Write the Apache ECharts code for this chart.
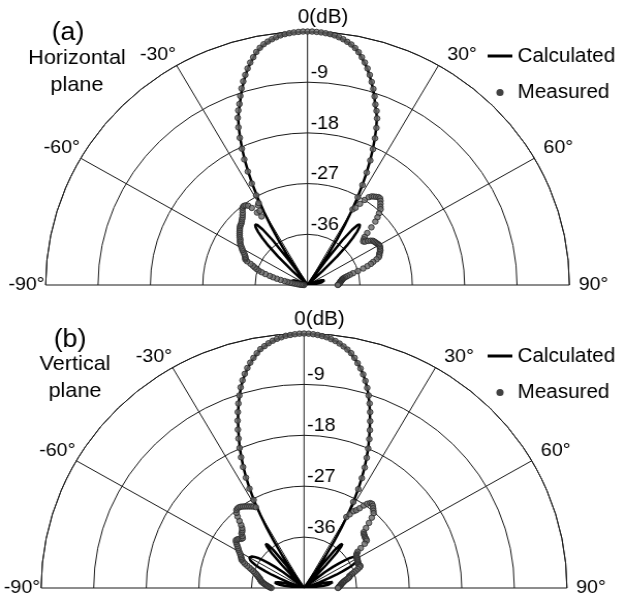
<!DOCTYPE html>
<html>
<head>
<meta charset="utf-8">
<script src="https://cdn.jsdelivr.net/npm/echarts@6/dist/echarts.min.js"></script>
<style>
html,body{margin:0;padding:0;background:#fff;overflow:hidden;}
#wrap{width:624px;height:598px;overflow:hidden;}
#chart{width:604px;height:598px;transform:scaleX(1.033);transform-origin:0 0;}
</style>
</head>
<body>
<div id="wrap"><div id="chart"></div></div>
<script>
// Sample angles (degrees), shared by every pattern series
const ANGLES = [
  -90,-89,-88,-87,-86,-85,-84,-83,-82,-81,
  -80,-79,-78,-77,-76,-75,-74,-73,-72,-71,
  -70,-69,-68,-67,-66,-65,-64,-63,-62,-61,
  -60,-59,-58,-57,-56,-55,-54,-53,-52,-51,
  -50,-49,-48,-47,-46,-45,-44,-43,-42,-41,
  -40,-39,-38,-37,-36,-35,-34,-33,-32,-31,
  -30,-29,-28,-27,-26,-25,-24,-23,-22,-21,
  -20,-19,-18,-17,-16,-15,-14,-13,-12,-11,
  -10,-9,-8,-7,-6,-5,-4,-3,-2,-1,
  0,1,2,3,4,5,6,7,8,9,
  10,11,12,13,14,15,16,17,18,19,
  20,21,22,23,24,25,26,27,28,29,
  30,31,32,33,34,35,36,37,38,39,
  40,41,42,43,44,45,46,47,48,49,
  50,51,52,53,54,55,56,57,58,59,
  60,61,62,63,64,65,66,67,68,69,
  70,71,72,73,74,75,76,77,78,79,
  80,81,82,83,84,85,86,87,88,89,
  90
];

// (a) Horizontal plane, relative level in dB
const H_CALC = [
  -45,-45,-45,-45,-45,-44.7,-44.3,-43.9,-43.5,-43.1,
  -42.8,-42.5,-42.3,-42.1,-42.0,-41.9,-42.0,-42.1,-42.2,-42.4,
  -42.6,-42.9,-43.3,-44,-45,-45,-45,-45,-45,-45,
  -45,-45,-45,-45,-45,-45,-45,-45,-45,-45,
  -45,-45,-45,-45,-41.5,-37.8,-35.3,-33.6,-32.3,-31.4,
  -31.0,-31.3,-32.5,-35,-40,-45,-42.0,-38.5,-35.5,-32.7,
  -30.0,-27.4,-25.0,-22.7,-20.5,-18.5,-16.6,-14.8,-13.2,-12.0,
  -11.0,-9.7,-8.5,-7.4,-6.3,-5.3,-4.4,-3.6,-2.8,-2.2,
  -1.7,-1.35,-1.0,-0.75,-0.5,-0.35,-0.2,-0.1,-0.05,-0.02,
  0,-0.02,-0.05,-0.1,-0.2,-0.35,-0.5,-0.75,-1.0,-1.35,
  -1.7,-2.2,-2.8,-3.6,-4.4,-5.3,-6.3,-7.4,-8.5,-9.7,
  -11.0,-12.0,-13.2,-14.8,-16.6,-18.5,-20.5,-22.7,-25.0,-27.4,
  -30.0,-32.7,-35.5,-38.5,-42.0,-45,-40,-35,-32.5,-31.3,
  -31.0,-31.4,-32.3,-33.6,-35.3,-37.8,-41.5,-45,-45,-45,
  -45,-45,-45,-45,-45,-45,-45,-45,-45,-45,
  -45,-45,-45,-45,-45,-45,-45,-44,-43.3,-42.9,
  -42.6,-42.4,-42.2,-42.1,-42.0,-41.9,-42.0,-42.1,-42.3,-42.5,
  -42.8,-43.1,-43.5,-43.9,-44.3,-44.7,-45,-45,-45,-45,
  -45
];
const H_MEAS = [
  -44.4,-44.2,-44.0,-43.8,-43.5,-43.2,-42.8,-42.4,-42.0,-41.5,
  -41.0,-40.3,-39.6,-38.9,-38.3,-37.5,-36.8,-36.2,-35.8,-35.4,
  -35.0,-34.5,-33.8,-33.4,-33.3,-33.2,-33.0,-32.8,-32.5,-32.2,
  -32.0,-31.7,-31.4,-31.2,-31.0,-30.9,-30.6,-30.4,-30.2,-30.0,
  -29.8,-29.6,-29.4,-29.3,-29.2,-29.0,-28.8,-28.6,-28.3,-28.0,
  -27.6,-27.3,-27.2,-27.3,-27.6,-28.3,-29.5,-30.5,-29.5,-28.5,
  -28.2,-26.8,-24.6,-22.4,-20.2,-18.3,-16.4,-14.6,-13.0,-11.8,
  -10.8,-9.5,-8.3,-7.2,-6.2,-5.2,-4.3,-3.5,-2.7,-2.1,
  -1.6,-1.25,-0.95,-0.7,-0.45,-0.3,-0.2,-0.1,-0.05,0,
  0,0,-0.05,-0.1,-0.2,-0.3,-0.45,-0.7,-0.95,-1.3,
  -1.65,-2.15,-2.75,-3.5,-4.3,-5.2,-6.2,-7.3,-8.4,-9.6,
  -10.9,-11.9,-13.1,-14.7,-16.5,-18.4,-20.4,-22.6,-24.9,-27.2,
  -29.5,-29.0,-28.0,-27.0,-26.2,-25.8,-25.6,-25.4,-25.2,-25.2,
  -25.5,-25.9,-26.3,-26.6,-27.3,-28.0,-28.8,-30.0,-31.2,-32.0,
  -32.4,-32.7,-32.5,-32.0,-31.6,-31.3,-31.2,-31.1,-31.0,-30.9,
  -30.8,-30.8,-30.9,-31.0,-31.1,-31.3,-31.5,-31.6,-31.8,-32.3,
  -33.0,-33.5,-34.2,-35.0,-36.0,-36.9,-37.5,-38.0,-38.4,-38.7,
  -38.9,-39.0,-39.1,-39.2,-39.3,-39.4,-39.4,-39.5,-39.6,-39.7,
  -39.8
];

// (b) Vertical plane, relative level in dB
const V_CALC = [
  -45,-45,-45,-45,-45,-43.8,-42.6,-41.6,-40.8,-40.3,
  -40.0,-39.9,-40.0,-40.4,-41.0,-42.0,-43.5,-45,-45,-45,
  -44,-42.2,-40.5,-39.0,-37.8,-36.7,-35.8,-35.1,-34.6,-34.4,
  -34.2,-34.3,-34.5,-34.9,-35.5,-36.4,-37.5,-38.8,-40.5,-43,
  -45,-45,-45,-45,-45,-45,-43,-39.5,-36.8,-35.3,
  -34.8,-35.2,-36.5,-40,-45,-45,-41.5,-38.2,-35.3,-32.6,
  -30.0,-27.5,-25.3,-23.3,-21.4,-19.7,-18.0,-16.5,-15.0,-13.5,
  -12.0,-10.6,-9.3,-8.0,-6.9,-5.9,-5.0,-4.2,-3.5,-2.8,
  -2.2,-1.75,-1.35,-1.0,-0.75,-0.5,-0.35,-0.2,-0.1,-0.02,
  0,-0.02,-0.1,-0.2,-0.35,-0.5,-0.75,-1.0,-1.35,-1.75,
  -2.2,-2.8,-3.5,-4.2,-5.0,-5.9,-6.9,-8.0,-9.3,-10.6,
  -12.0,-13.5,-15.0,-16.5,-18.0,-19.7,-21.4,-23.3,-25.3,-27.5,
  -30.0,-32.6,-35.3,-38.2,-41.5,-45,-45,-40,-36.5,-35.2,
  -34.8,-35.3,-36.8,-39.5,-43,-45,-45,-45,-45,-45,
  -45,-43,-40.5,-38.8,-37.5,-36.4,-35.5,-34.9,-34.5,-34.3,
  -34.2,-34.4,-34.6,-35.1,-35.8,-36.7,-37.8,-39.0,-40.5,-42.2,
  -44,-45,-45,-45,-43.5,-42.0,-41.0,-40.4,-40.0,-39.9,
  -40.0,-40.3,-40.8,-41.6,-42.6,-43.8,-45,-45,-45,-45,
  -45
];
const V_MEAS = [
  -39.4,-39.2,-39.0,-38.8,-38.6,-38.4,-38.2,-38.0,-37.8,-37.6,
  -37.5,-37.4,-37.3,-37.1,-37.0,-36.8,-36.6,-36.4,-36.1,-35.8,
  -35.4,-35.0,-34.5,-34.0,-33.6,-33.2,-33.1,-32.9,-32.7,-32.5,
  -32.2,-31.9,-31.7,-31.4,-31.1,-30.8,-30.6,-30.7,-30.9,-31.2,
  -31.3,-31.0,-30.6,-30.5,-30.3,-30.0,-29.5,-28.8,-28.0,-27.4,
  -27.0,-26.9,-26.9,-27.0,-27.2,-27.4,-27.6,-27.8,-28.0,-28.2,
  -28.5,-27.2,-25.1,-23.1,-21.2,-19.5,-17.9,-16.3,-14.8,-13.3,
  -11.9,-10.5,-9.2,-7.9,-6.8,-5.8,-4.9,-4.1,-3.4,-2.7,
  -2.1,-1.7,-1.3,-0.95,-0.7,-0.5,-0.3,-0.2,-0.1,-0.02,
  0,-0.02,-0.1,-0.2,-0.35,-0.5,-0.75,-1.0,-1.35,-1.75,
  -2.2,-2.7,-3.4,-4.2,-5.0,-5.9,-6.9,-8.0,-9.2,-10.5,
  -11.9,-13.4,-14.9,-16.4,-18.0,-19.6,-21.3,-23.2,-25.2,-27.6,
  -30.5,-29.8,-29.0,-28.6,-28.0,-27.2,-26.6,-26.2,-26.1,-26.3,
  -26.6,-26.9,-27.2,-28.0,-29.0,-30.0,-30.8,-31.0,-31.1,-31.2,
  -31.3,-31.3,-31.4,-32.0,-33.0,-33.8,-34.1,-34.3,-34.4,-34.5,
  -34.5,-34.6,-34.6,-34.7,-34.7,-34.8,-34.8,-34.7,-34.6,-34.8,
  -35.2,-35.6,-36.0,-36.4,-36.7,-37.0,-37.0,-37.2,-37.5,-37.8,
  -38.0,-38.2,-38.3,-38.5,-38.6,-38.7,-38.8,-38.9,-39.0,-39.1,
  -39.2
];

// Axis ranges and tick spacing
const DB_MIN = -45, DB_MAX = 0, DB_STEP = 9;
const ANG_MIN = -90, ANG_MAX = 90, ANG_STEP = 30;

const FONT = "'Liberation Sans', Arial, Helvetica, sans-serif";
const INK = '#1a1a1a';

// legend key for the solid curve: a 3px bar inside a 24x7 box
const LINE_KEY = 'path://M0,0H24V0.01H0Z M0,2H24V5H0Z M0,6.99H24V7H0Z';

function polarPairs(vals) {
  return ANGLES.map((a, i) => [vals[i], a]);
}

function angleLabel(v) {
  if (v === 0) return '{z|0(dB)}';
  if (v > 0) return '{r|' + v + '°}';
  return v + '°';
}

function buildPlane(mainIdx, center, radius) {
  const polar = [
    { center: center, radius: radius },
    { center: center, radius: radius }
  ];
  const angleAxis = [
    {
      polarIndex: mainIdx, type: 'value', min: ANG_MIN, max: ANG_MAX, interval: ANG_STEP,
      startAngle: 180, endAngle: 0, clockwise: true,
      axisLine: { show: true, lineStyle: { color: INK, width: 1 } },
      axisTick: { show: false },
      splitLine: { show: true, lineStyle: { color: INK, width: 1 } },
      axisLabel: {
        show: true, margin: 1, fontSize: 19, color: '#000', fontFamily: FONT,
        formatter: angleLabel,
        rich: {
          z: { fontSize: 20, color: '#000', fontFamily: FONT, padding: [0, 0, 3, 30] },
          r: { fontSize: 19, color: '#000', fontFamily: FONT, padding: [0, 0, 0, 8] }
        }
      }
    },
    {
      // second frame, only carries the dB labels along the 0° direction
      polarIndex: mainIdx + 1, type: 'value', min: 0, max: 360, startAngle: 90, show: false
    }
  ];
  const radiusAxis = [
    {
      polarIndex: mainIdx, type: 'value', min: DB_MIN, max: DB_MAX, interval: DB_STEP,
      axisLine: { show: false }, axisTick: { show: false }, axisLabel: { show: false },
      splitLine: { show: true, lineStyle: { color: INK, width: 1 } }
    },
    {
      polarIndex: mainIdx + 1, type: 'value', min: DB_MIN, max: DB_MAX, interval: DB_STEP,
      axisLine: { show: false }, axisTick: { show: false }, splitLine: { show: false },
      axisLabel: {
        show: true, margin: -3, align: 'left', verticalAlign: 'bottom',
        fontSize: 19, color: '#000', fontFamily: FONT,
        formatter: v => (v === DB_MIN || v === DB_MAX) ? '' : String(v)
      }
    }
  ];
  return { polar, angleAxis, radiusAxis };
}

const upperPlane = buildPlane(0, [297.7, 285], 253.5);
const lowerPlane = buildPlane(2, [294.3, 588], 254.5);

function patternSeries(polarIndex, calc, meas) {
  return [
    {
      type: 'scatter', name: 'Measured', coordinateSystem: 'polar', polarIndex: polarIndex,
      data: polarPairs(meas), symbol: 'circle', symbolSize: 5.5,
      itemStyle: { color: '#6a6a6a', borderColor: '#262626', borderWidth: 1 },
      z: 4, silent: true
    },
    {
      type: 'line', name: 'Calculated', coordinateSystem: 'polar', polarIndex: polarIndex,
      data: polarPairs(calc), symbol: 'none', showSymbol: false,
      itemStyle: { color: '#000' },
      lineStyle: { color: '#000', width: 2.5 },
      z: 3, silent: true
    }
  ];
}

function legendAt(legendTop) {
  return {
    data: [
      { name: 'Calculated', icon: LINE_KEY, itemStyle: { color: '#000', borderWidth: 0 } },
      { name: 'Measured', icon: 'circle', itemStyle: { color: '#111', borderWidth: 0 } }
    ],
    orient: 'vertical', left: 472, top: legendTop, padding: 0,
    itemWidth: 24, itemHeight: 7, itemGap: 12.5, selectedMode: false,
    textStyle: { fontSize: 20, color: '#000', fontFamily: FONT, lineHeight: 24 }
  };
}

const titleText = { fontWeight: 'normal', color: '#000', fontFamily: FONT };

const option = {
  animation: false,
  backgroundColor: '#fff',
  title: [
    { text: '(a)', left: 65.8, top: 20, textAlign: 'center', padding: 0,
      textStyle: Object.assign({ fontSize: 26 }, titleText) },
    { text: 'Horizontal\nplane', left: 74.5, top: 45, textAlign: 'center', padding: 0,
      textStyle: Object.assign({ fontSize: 21, lineHeight: 27 }, titleText) },
    { text: '(b)', left: 67.8, top: 327, textAlign: 'center', padding: 0,
      textStyle: Object.assign({ fontSize: 26 }, titleText) },
    { text: 'Vertical\nplane', left: 72.6, top: 350.5, textAlign: 'center', padding: 0,
      textStyle: Object.assign({ fontSize: 21, lineHeight: 27 }, titleText) }
  ],
  legend: [legendAt(44), legendAt(344)],
  polar: upperPlane.polar.concat(lowerPlane.polar),
  angleAxis: upperPlane.angleAxis.concat(lowerPlane.angleAxis),
  radiusAxis: upperPlane.radiusAxis.concat(lowerPlane.radiusAxis),
  series: patternSeries(0, H_CALC, H_MEAS).concat(patternSeries(2, V_CALC, V_MEAS))
};

const chart = echarts.init(document.getElementById('chart'), null, { renderer: 'canvas' });
chart.setOption(option);
</script>
</body>
</html>
